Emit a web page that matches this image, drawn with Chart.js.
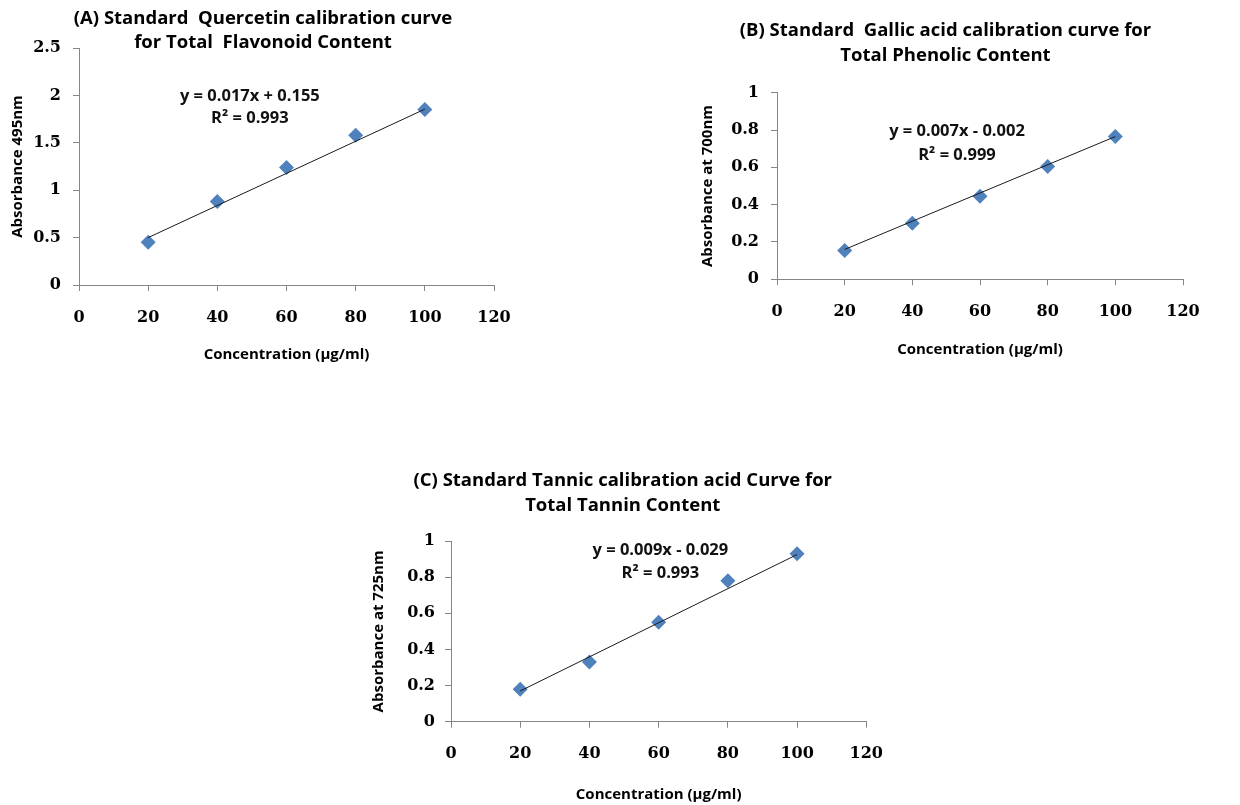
<!DOCTYPE html>
<html><head><meta charset="utf-8">
<script src="https://cdn.jsdelivr.net/npm/chart.js@4.4.1/dist/chart.umd.min.js"></script>
<style>
html,body{margin:0;padding:0;background:#fff;width:1240px;height:805px;overflow:hidden;position:relative}
canvas{position:absolute}
</style></head><body>
<canvas id="cA" width="540" height="380" style="left:0px;top:0px"></canvas>
<canvas id="cB" width="550" height="380" style="left:690px;top:0px"></canvas>
<canvas id="cC" width="540" height="365" style="left:360px;top:440px"></canvas>
<script>
// ---- data ----
const concentration = [20, 40, 60, 80, 100];
const absorbanceA = [0.45, 0.88, 1.24, 1.58, 1.85];
const absorbanceB = [0.155, 0.30, 0.445, 0.605, 0.765];
const absorbanceC = [0.18, 0.33, 0.55, 0.78, 0.93];
const trendX = [20, 100];
const trendA = [0.50, 1.855];
const trendB = [0.16, 0.765];
const trendC = [0.17, 0.925];
const xTickLabels = ['0', '20', '40', '60', '80', '100', '120'];
const yTickLabelsA = ['0', '0.5', '1', '1.5', '2', '2.5'];
const yTickLabelsB = ['0', '0.2', '0.4', '0.6', '0.8', '1'];
const yTickLabelsC = ['0', '0.2', '0.4', '0.6', '0.8', '1'];
const titleA = ['(A) Standard  Quercetin calibration curve', 'for Total  Flavonoid Content'];
const titleB = ['(B) Standard  Gallic acid calibration curve for', 'Total Phenolic Content'];
const titleC = ['(C) Standard Tannic calibration acid Curve for', 'Total Tannin Content'];
const yTitleA = 'Absorbance 495nm';
const yTitleB = 'Absorbance at 700nm';
const yTitleC = 'Absorbance at 725nm';
const xTitle = 'Concentration (µg/ml)';
const eqA = ['y = 0.017x + 0.155', 'R² = 0.993'];
const eqB = ['y = 0.007x - 0.002', 'R² = 0.999'];
const eqC = ['y = 0.009x - 0.029', 'R² = 0.993'];

// ---- plugins ----
const eqPlugin = {
  id: 'eqText',
  afterDatasetsDraw(chart, args, o) {
    const { ctx, scales: { x, y } } = chart;
    ctx.save();
    ctx.font = o.font; ctx.fillStyle = '#111'; ctx.textAlign = 'center'; ctx.textBaseline = 'middle';
    const px = x.getPixelForValue(o.at[0]), py = y.getPixelForValue(o.at[1]);
    o.lines.forEach((t, i) => ctx.fillText(t, px, py + i * o.gap));
    ctx.restore();
  }
};
const shiftTitle = {
  id: 'shiftTitle',
  afterLayout(chart, args, o) {
    const t = chart.titleBlock;
    if (t) { t.left += o.dx; t.right += o.dx; }
  }
};

const AXIS = '#868686';
const BLUE = '#4F81BD';
const SANS = '"Open Sans", Lato, sans-serif';

function build(id, g, xs, ys, tx, ty, yMax, yStep, yLabels, title, yTitle, eq) {
  const pts = xs.map((v, i) => ({ x: v, y: ys[i] }));
  const tl = tx.map((v, i) => ({ x: v, y: ty[i] }));
  return new Chart(document.getElementById(id), {
    type: 'scatter',
    data: {
      datasets: [
        { data: tl, showLine: true, borderColor: '#1a1a1a', borderWidth: 1, pointRadius: 0, order: 0 },
        { data: pts, pointStyle: 'rectRot', pointRadius: 7.5, pointBackgroundColor: BLUE, pointBorderWidth: 0, borderColor: BLUE, order: 1 }
      ]
    },
    options: {
      responsive: false, animation: false, devicePixelRatio: 1,
      layout: { padding: { left: g.pl, right: g.pr, top: 0, bottom: g.pb } },
      plugins: {
        legend: { display: false }, tooltip: { enabled: false },
        title: {
          display: true, text: title, color: '#000',
          font: { family: SANS, weight: 'bold', size: 18.5, lineHeight: g.lh / 18.5 },
          padding: { top: g.tpt, bottom: g.tpb }
        },
        shiftTitle: { dx: g.dx },
        eqText: { lines: eq, at: g.eqAt, gap: g.eqGap, font: 'bold 16.5px "Open Sans"' }
      },
      scales: {
        x: {
          type: 'linear', min: 0, max: 120,
          afterFit(s) { s.height = g.xh; },
          border: { color: AXIS, width: 1 },
          grid: { drawOnChartArea: false, drawTicks: true, tickLength: 6, color: AXIS },
          ticks: { stepSize: 20, padding: g.xtp, color: '#000', maxRotation: 0,
                   font: { family: 'DejaVu Serif', weight: 'bold', size: 16 },
                   callback: (v, i) => xTickLabels[i] },
          title: { display: true, text: xTitle, color: '#000', font: { family: SANS, weight: 'bold', size: 15 },
                   padding: { top: 0, bottom: g.xtb } }
        },
        y: {
          type: 'linear', min: 0, max: yMax,
          afterFit(s) { s.width = g.yw; },
          border: { color: AXIS, width: 1 },
          grid: { drawOnChartArea: false, drawTicks: true, tickLength: 6, color: AXIS },
          ticks: { stepSize: yStep, padding: g.ytp, color: '#000',
                   font: { family: 'DejaVu Serif', weight: 'bold', size: 16 },
                   callback: (v, i) => yLabels[i] },
          title: { display: true, text: yTitle, color: '#000', font: { family: SANS, weight: 'bold', size: 15 },
                   padding: { top: g.ytt, bottom: 0 } }
        }
      }
    },
    plugins: [eqPlugin, shiftTitle]
  });
}

// chart A: area left 79, top 48, right 494, bottom 285 in a 540x380 canvas
build('cA', { pl: 8, pr: 46, pb: 8, yw: 71, xh: 87, lh: 24, tpt: 7, tpb: -7, dx: 12,
              xtp: 17, xtb: 8, ytp: 12, ytt: 1, eqAt: [49.4, 1.99], eqGap: 22 },
      concentration, absorbanceA, trendX, trendA, 2.5, 0.5, yTickLabelsA, titleA, yTitleA, eqA);

// chart B: area left 87, top 92.7, right 493, bottom 279.3 in a 550x380 canvas
build('cB', { pl: 8, pr: 57, pb: 8, yw: 79, xh: 92.7, lh: 25, tpt: 18.5, tpb: 24.2, dx: 5,
              xtp: 17, xtb: 13, ytp: 12, ytt: 1, eqAt: [53.2, 0.795], eqGap: 24 },
      concentration, absorbanceB, trendX, trendB, 1, 0.2, yTickLabelsB, titleB, yTitleB, eqB);

// chart C: area left 91, top 101, right 509.5, bottom 281.7 in a 540x365 canvas
build('cC', { pl: 8, pr: 30.5, pb: 0, yw: 83, xh: 83.3, lh: 25, tpt: 28.5, tpb: 22.5, dx: 4,
              xtp: 17, xtb: 1, ytp: 10, ytt: 2, eqAt: [60.5, 0.95], eqGap: 23 },
      concentration, absorbanceC, trendX, trendC, 1, 0.2, yTickLabelsC, titleC, yTitleC, eqC);
</script>
</body></html>
